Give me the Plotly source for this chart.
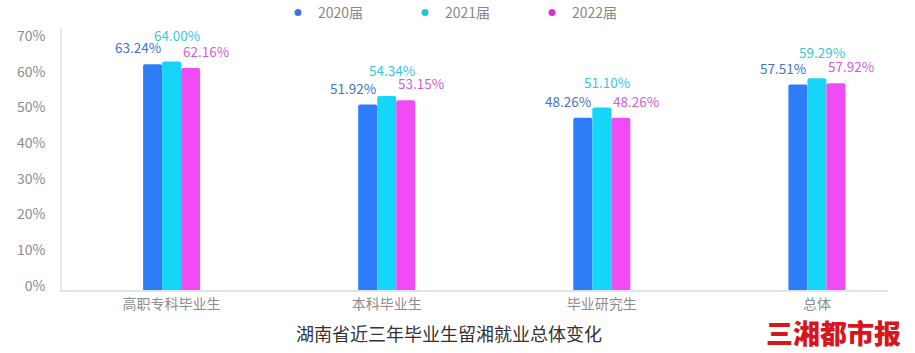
import plotly.graph_objects as go

categories = ["高职专科毕业生", "本科毕业生", "毕业研究生", "总体"]
series_names = ["2020届", "2021届", "2022届"]
v2020 = [63.24, 51.92, 48.26, 57.51]
v2021 = [64.00, 54.34, 51.10, 59.29]
v2022 = [62.16, 53.15, 48.26, 57.92]
y_ticks = [0, 10, 20, 30, 40, 50, 60, 70]
y_tick_labels = ["0%", "10%", "20%", "30%", "40%", "50%", "60%", "70%"]
chart_title = "湖南省近三年毕业生留湘就业总体变化"
logo_text = "三湘都市报"

bar_colors = ["#2E7CF8", "#17D5F7", "#F04BF4"]
dot_colors = ["#3A78D8", "#22C6D8", "#D82FD9"]
label_colors = ["#3F74C8", "#3CC5DC", "#D160D8"]
label_xshift = [-34, 5, 34]
label_yshift = [17, 26, 17]
FONT = "Noto Sans CJK SC"

fig = go.Figure()
all_vals = [v2020, v2021, v2022]
for name, vals, col in zip(series_names, all_vals, bar_colors):
    fig.add_trace(go.Bar(x=categories, y=vals, name=name, marker=dict(color=col, cornerradius=2, line=dict(width=0)),
                         showlegend=False, hoverinfo="skip"))
for name, col in zip(series_names, dot_colors):
    fig.add_trace(go.Scatter(x=[None], y=[None], mode="markers", name=name,
                             marker=dict(symbol="circle", size=7, color=col)))

annotations = []
for vals, col, xs, ys in zip(all_vals, label_colors, label_xshift, label_yshift):
    for c, v in zip(categories, vals):
        annotations.append(dict(x=c, y=v, xref="x", yref="y", text=f"{v:.2f}%", showarrow=False,
                                xshift=xs, yshift=ys, yanchor="middle", xanchor="center",
                                font=dict(family=FONT, size=13.5, color=col)))
annotations.append(dict(x=(833 - 62) / 826, y=(290 - 332) / 262, xref="paper", yref="paper", text=logo_text,
                        showarrow=False, xanchor="center", yanchor="middle",
                        font=dict(family=FONT, size=27, color="#D7161C", weight=900)))

fig.update_layout(
    width=915, height=353,
    margin=dict(l=62, r=27, t=28, b=63, autoexpand=False),
    paper_bgcolor="white", plot_bgcolor="white",
    barmode="group", bargap=0.735, bargroupgap=0,
    font=dict(family=FONT, size=14, color="#8C8C8C"),
    title=dict(text=chart_title, xref="container", yref="container", x=449 / 915, xanchor="center",
               y=1 - 335 / 353, yanchor="middle", font=dict(family=FONT, size=18, color="#333333")),
    legend=dict(orientation="h", xref="container", yref="container", x=(298 - 20) / 915, xanchor="left",
                y=1 - 13 / 353, yanchor="middle", entrywidth=82, font=dict(family=FONT, size=14, color="#888888"),
                bgcolor="rgba(0,0,0,0)"),
    annotations=annotations,
)
fig.update_xaxes(range=[-0.5095, 3.3305], showline=True, linecolor="#DCE5EE", linewidth=1.5,
                 showgrid=False, ticks="", tickfont=dict(family=FONT, size=14, color="#8C8C8C"), fixedrange=True)
fig.update_yaxes(range=[0, (290 - 28) / (250 / 70)], tickvals=y_ticks, ticktext=y_tick_labels,
                 showline=True, linecolor="#E6E6EE", linewidth=1.5, showgrid=False, zeroline=False,
                 ticks="", ticklabelstandoff=12, ticklabelshift=-4,
                 tickfont=dict(family=FONT, size=14, color="#8C8C8C"), fixedrange=True)

fig.write_html("out.html")
